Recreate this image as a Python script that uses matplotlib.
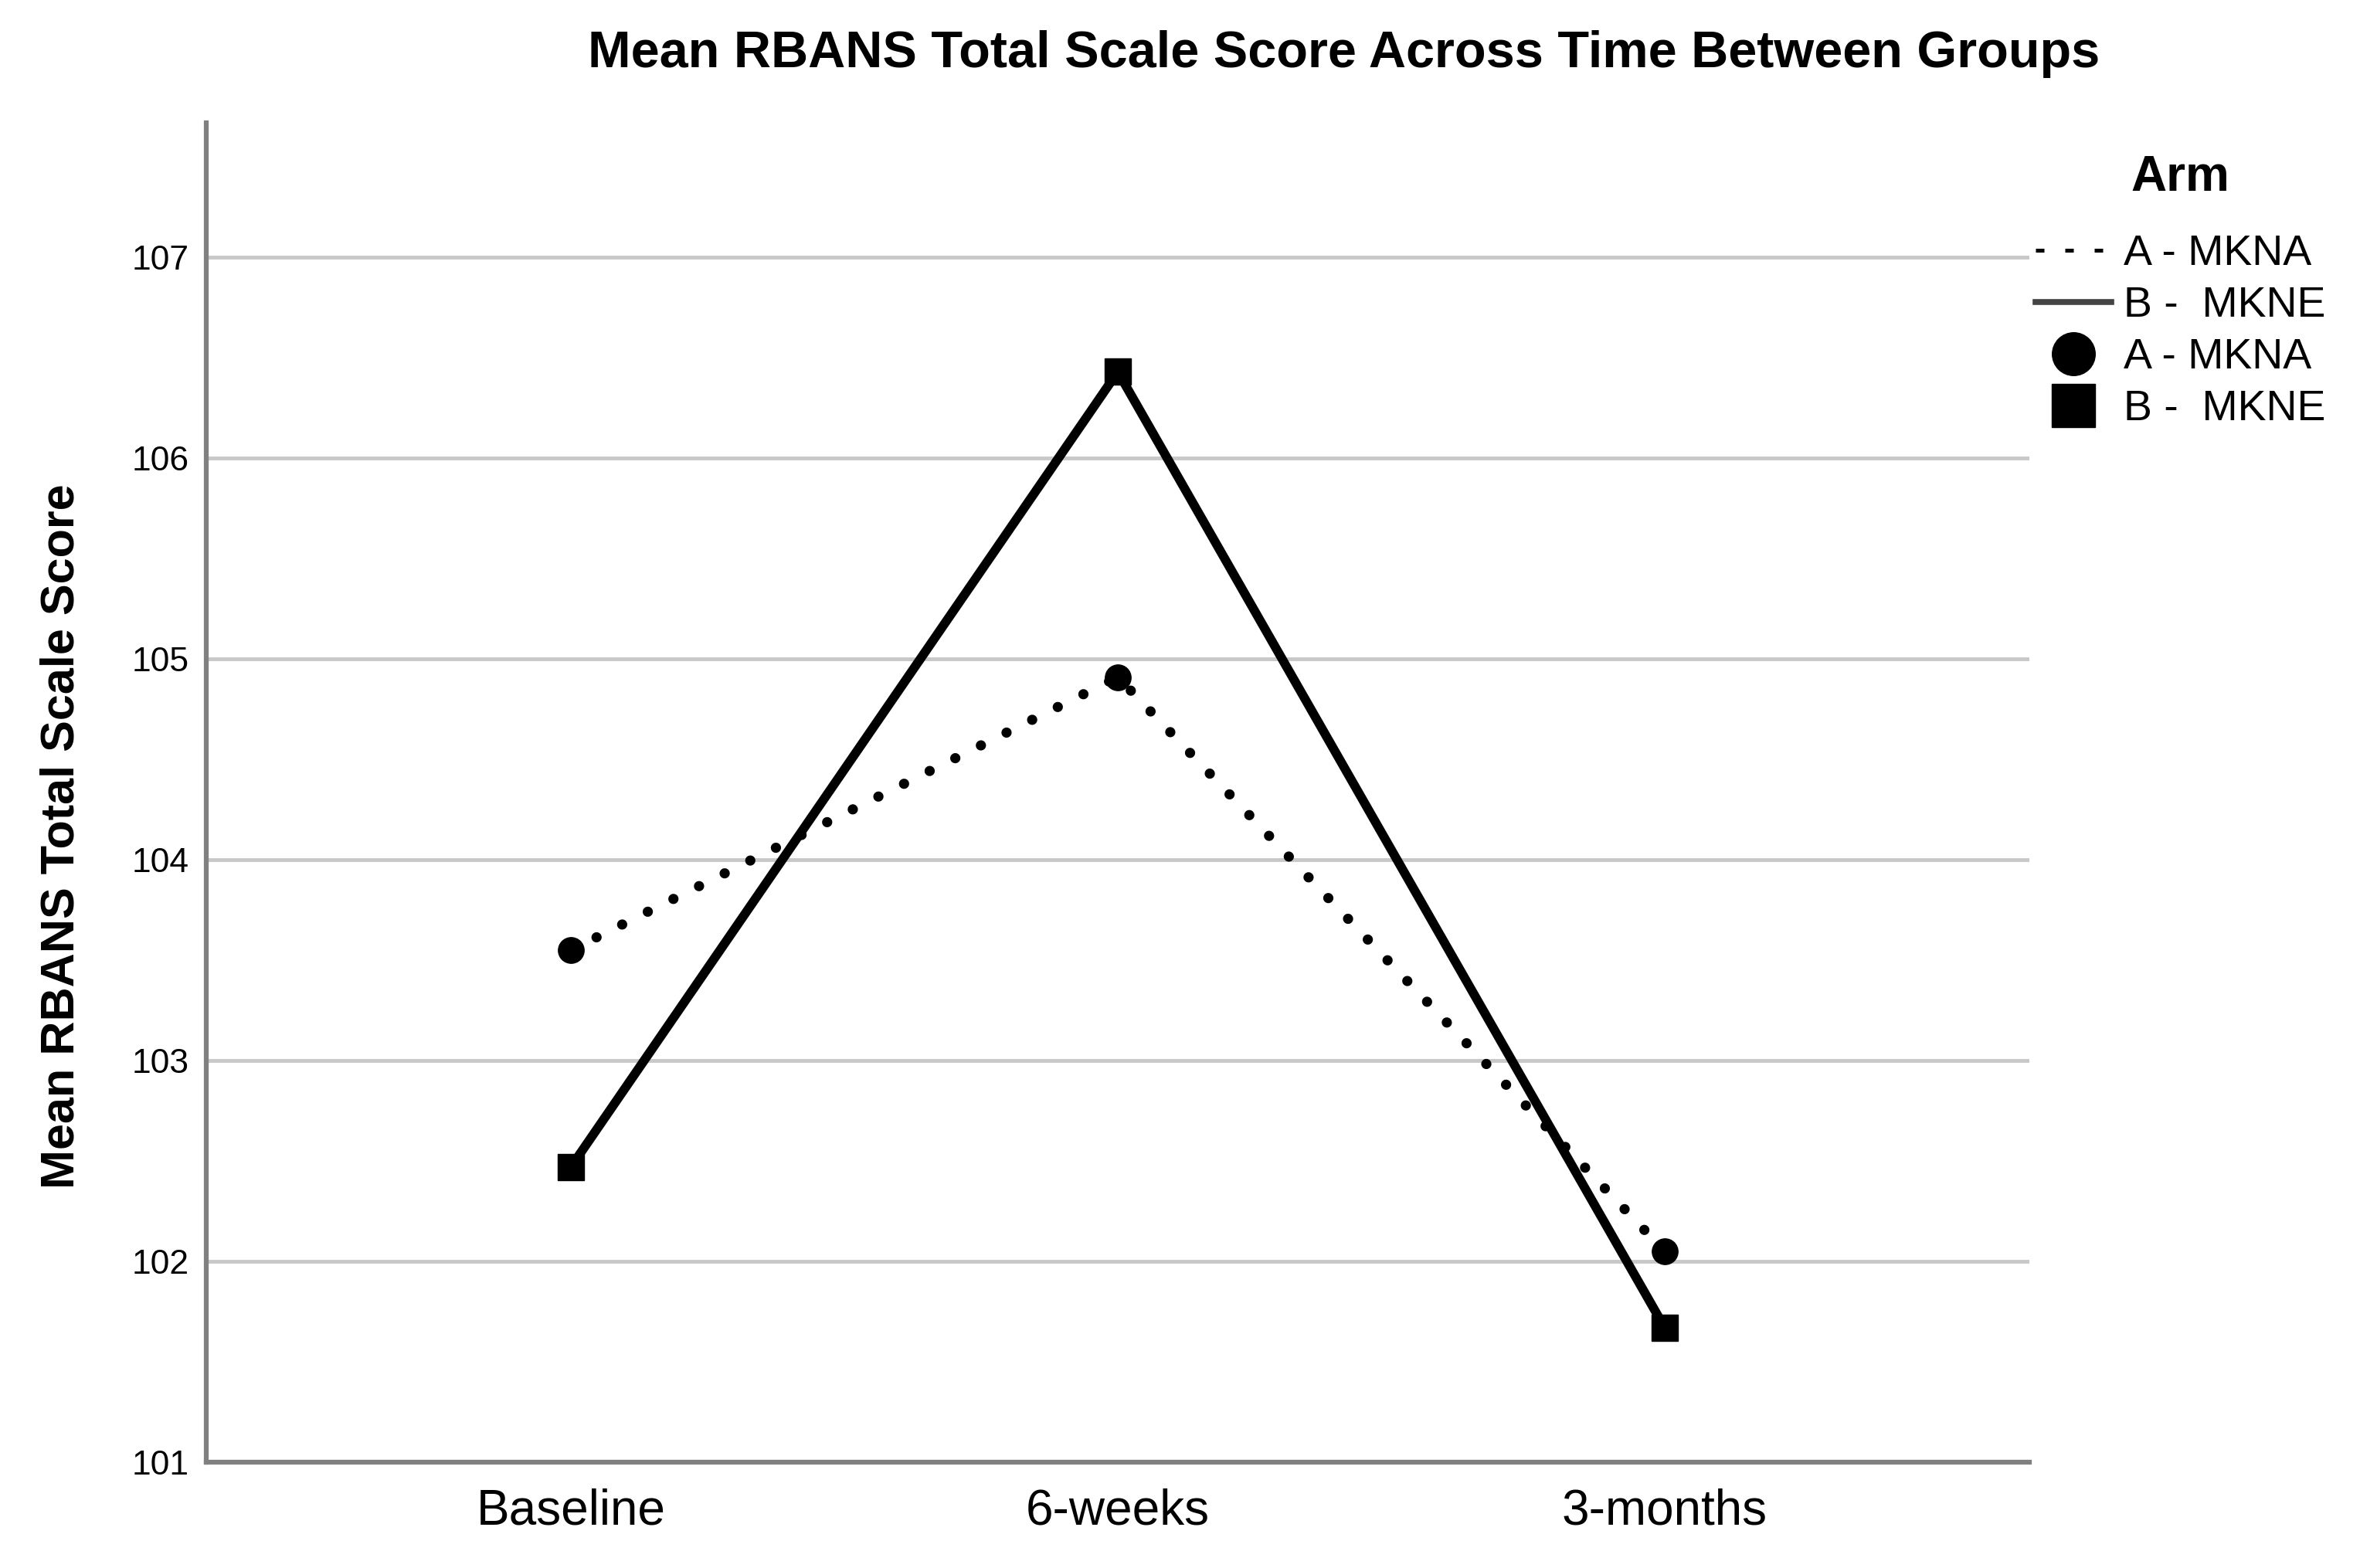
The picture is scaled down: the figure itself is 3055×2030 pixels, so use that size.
import matplotlib
matplotlib.use("Agg")
import matplotlib.pyplot as plt
from matplotlib.lines import Line2D

# ---- data ----
timepoints = ["Baseline", "6-weeks", "3-months"]
arm_a_label = "A - MKNA"
arm_b_label = "B -  MKNE"
arm_a_means = [103.55, 104.91, 102.05]
arm_b_means = [102.47, 106.43, 101.67]
y_ticks = [101, 102, 103, 104, 105, 106, 107]

plt.rcParams['font.family'] = ['Liberation Sans', 'DejaVu Sans']

W, H = 3055, 2030
fig = plt.figure(figsize=(W / 100, H / 100), dpi=100)
ax = fig.add_axes([267 / W, 1 - 1893 / H, (2627 - 267) / W, (1893 - 159) / H])

x = list(range(len(timepoints)))

# lines
ax.plot(x, arm_a_means, color='black', lw=9.5, linestyle=(0, (0.01, 2.8)),
        dash_capstyle='round', zorder=3)
ax.plot(x, arm_b_means, color='black', lw=8.5, linestyle='-', zorder=3,
        solid_joinstyle='miter')
# markers
ax.plot(x, arm_a_means, linestyle='none', marker='o', ms=24, color='black', zorder=4)
ax.plot(x, arm_b_means, linestyle='none', marker='s', ms=25, color='black', zorder=4)

ax.set_xlim(-2 / 3, 2 + 2 / 3)
ax.set_ylim(101, 107.67)
ax.set_xticks(x)
ax.set_xticklabels(timepoints, fontsize=46)
ax.set_yticks(y_ticks)
ax.set_yticklabels([str(v) for v in y_ticks], fontsize=32)
ax.tick_params(axis='both', length=0)
ax.tick_params(axis='y', pad=16)
ax.tick_params(axis='x', pad=24)

ax.grid(axis='y', color='#c8c8c8', lw=3.5, zorder=0)
ax.set_axisbelow(True)
for s in ['top', 'right']:
    ax.spines[s].set_visible(False)
for s in ['left', 'bottom']:
    ax.spines[s].set_color('#808080')
    ax.spines[s].set_linewidth(4.5)

fig.text(1740 / W, 1 - 70 / H, "Mean RBANS Total Scale Score Across Time Between Groups",
         ha='center', va='center', fontsize=48, fontweight='bold')
fig.text(80 / W, 1 - 1083 / H, "Mean RBANS Total Scale Score", rotation=90,
         ha='center', va='center', fontsize=44, fontweight='bold')

handles = [
    Line2D([], [], color='black', lw=3.6, linestyle=(0, (2.2, 5.4))),
    Line2D([], [], color='#444444', lw=5.5, linestyle='-'),
    Line2D([], [], color='black', linestyle='none', marker='o', ms=40),
    Line2D([], [], color='black', linestyle='none', marker='s', ms=40),
]
labels = [arm_a_label, arm_b_label, arm_a_label, arm_b_label]
leg = fig.legend(handles, labels, loc='upper left', bbox_to_anchor=(2635 / W, 1 - 303 / H),
                 frameon=False, fontsize=40, handlelength=1.76,
                 handletextpad=0.3, labelspacing=0.27, borderpad=0, borderaxespad=0)
fig.text(2822 / W, 1 - 230 / H, "Arm", ha='center', va='center',
         fontsize=46, fontweight='bold')

fig.savefig("out.png", dpi=100, facecolor='white')
